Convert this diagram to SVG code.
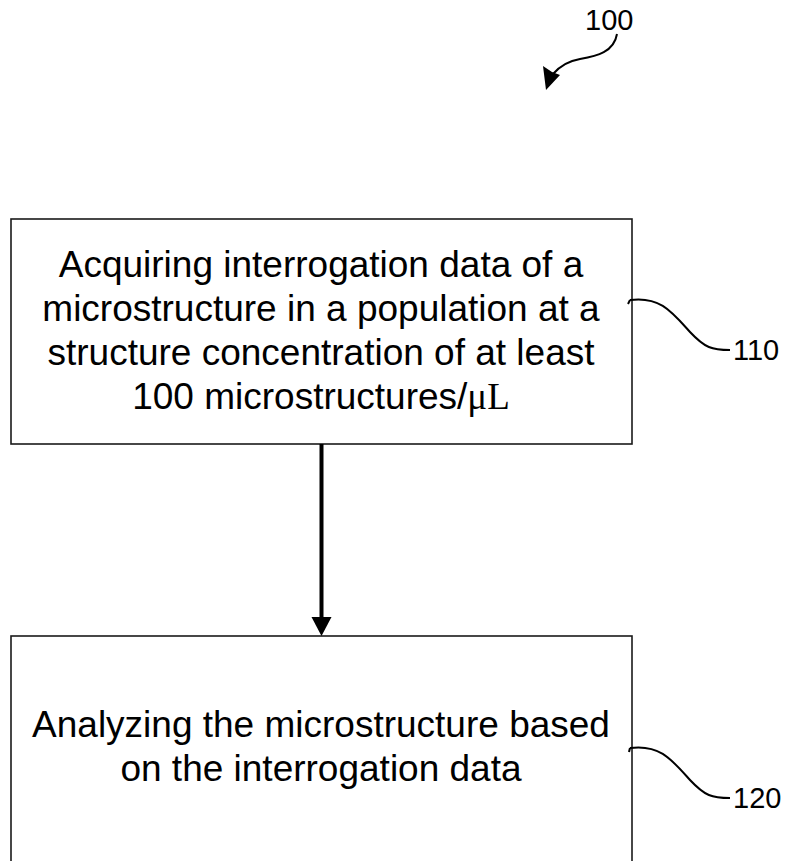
<svg xmlns="http://www.w3.org/2000/svg" width="788" height="861" viewBox="0 0 788 861">
<style>
.box{fill:#fff;stroke:#1a1a1a;stroke-width:1.6}
.t{font-family:"Liberation Sans",Arial,sans-serif;font-size:37px;fill:#000;text-anchor:middle}
.lbl{font-family:"Liberation Sans",Arial,sans-serif;font-size:29px;fill:#000}
.lead{fill:none;stroke:#000;stroke-width:2}
.serif{font-family:"Liberation Serif","Times New Roman",serif}
</style>
<rect width="788" height="861" fill="#fff"/>
<g id="label-100">
<text class="lbl" x="585" y="30">100</text>
<path class="lead" d="M617 34 C614 52 597 56 580 59 C568 61 560 66 553 74"/>
<polygon points="543,66 552,72 560,75 546,90" fill="#000"/>
</g>
<g id="node-110">
<rect class="box" x="11" y="219" width="621" height="225"/>
<text class="t" x="321" y="277">Acquiring interrogation data of a</text>
<text class="t" x="321" y="321">microstructure in a population at a</text>
<text class="t" x="321" y="365">structure concentration of at least</text>
<text class="t" x="321" y="409">100 microstructures/<tspan class="serif">μL</tspan></text>
<path class="lead" d="M630 300 C660 296 672 312 690 332 C705 348 712 350 730 350"/>
<path class="lead" d="M630 300 L628 304"/>
<text class="lbl" x="733" y="360">110</text>
</g>
<g id="node-120">
<rect class="box" x="11" y="636" width="621" height="240"/>
<text class="t" x="321" y="737">Analyzing the microstructure based</text>
<text class="t" x="321" y="781">on the interrogation data</text>
<path class="lead" d="M630 748 C660 744 672 760 690 780 C705 796 712 798 730 798"/>
<path class="lead" d="M630 748 L629 752"/>
<text class="lbl" x="733" y="808">120</text>
</g>
<g id="connectors">
<line x1="321.5" y1="444" x2="321.5" y2="619" stroke="#000" stroke-width="4"/>
<polygon points="311.5,617 331.5,617 321.5,636" fill="#000"/>
</g>
</svg>
